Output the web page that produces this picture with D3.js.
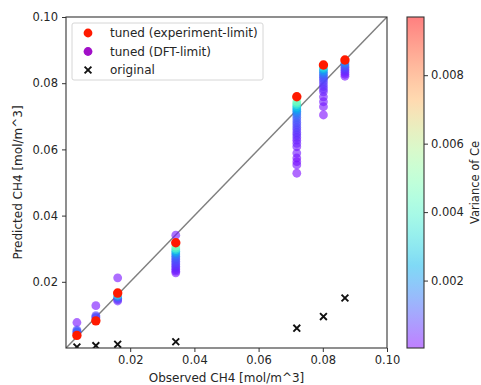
<!DOCTYPE html>
<html>
<head>
<meta charset="utf-8">
<script src="https://cdn.jsdelivr.net/npm/d3@7"></script>
<style>
  body { margin: 0; background: #fff; }
  svg text { font-family: "DejaVu Sans", sans-serif; fill: #262626; }
</style>
</head>
<body>
<div id="chart"></div>
<script>
// observed concentration of each case
const observed = [0.0034, 0.0093, 0.0161, 0.0342, 0.0719, 0.0802, 0.0869];
const originalPred = [0.0003, 0.0007, 0.0011, 0.0019, 0.0060, 0.0095, 0.0151];
const expLimitPred = [0.0038, 0.0082, 0.0166, 0.0318, 0.0759, 0.0855, 0.0870];

// DFT-limit runs, one list per observed case
const dftPred = [
  [0.0077, 0.0055, 0.0051, 0.0048, 0.0046],
  [0.0128, 0.0098, 0.0094, 0.0091],
  [0.0212, 0.0160, 0.0155, 0.0150, 0.0146, 0.0142],
  [0.0341, 0.0308, 0.0302, 0.0297, 0.0292, 0.0287, 0.0282, 0.0277, 0.0272, 0.0267,
   0.0262, 0.0257, 0.0252, 0.0247, 0.0242, 0.0237, 0.0232, 0.0227],
  [0.0745, 0.0740, 0.0735, 0.0730, 0.0725, 0.0720, 0.0715, 0.0710, 0.0704, 0.0697,
   0.0689, 0.0681, 0.0674, 0.0666, 0.0659, 0.0651, 0.0644, 0.0636, 0.0628, 0.0618,
   0.0608, 0.0589, 0.0574, 0.0563, 0.0553, 0.0528],
  [0.0848, 0.0843, 0.0838, 0.0833, 0.0828, 0.0823, 0.0818, 0.0813, 0.0806, 0.0798,
   0.0790, 0.0782, 0.0774, 0.0759, 0.0744, 0.0729, 0.0704],
  [0.0863, 0.0858, 0.0853, 0.0848, 0.0843, 0.0838, 0.0833, 0.0827, 0.0821]
];
const dftVar = [
  [0.0002, 0.0009, 0.0011, 0.0013, 0.0007],
  [0.0002, 0.0008, 0.0010, 0.0006],
  [0.0002, 0.0034, 0.0018, 0.0010, 0.0006, 0.0004],
  [0.0003, 0.0050, 0.0042, 0.0034, 0.0026, 0.0020, 0.0016, 0.0013, 0.0011, 0.0010,
   0.0009, 0.0008, 0.0007, 0.0006, 0.0005, 0.0004, 0.0003, 0.0002],
  [0.0048, 0.0042, 0.0036, 0.0030, 0.0025, 0.0021, 0.0018, 0.0016, 0.0014, 0.0012,
   0.0011, 0.0010, 0.0009, 0.0008, 0.0007, 0.0006, 0.0006, 0.0005, 0.0004, 0.0004,
   0.0003, 0.0003, 0.0002, 0.0002, 0.0002, 0.0001],
  [0.0034, 0.0027, 0.0021, 0.0017, 0.0014, 0.0012, 0.0010, 0.0009, 0.0008, 0.0007,
   0.0006, 0.0005, 0.0004, 0.0003, 0.0003, 0.0002, 0.0001],
  [0.0018, 0.0014, 0.0011, 0.0009, 0.0007, 0.0006, 0.0004, 0.0003, 0.0002]
];

const axisTicks = [0.02, 0.04, 0.06, 0.08, 0.10];
const cbarTicks = [0.002, 0.004, 0.006, 0.008];
const varRange = [0.00003, 0.0097];
const legendLabels = ["tuned (experiment-limit)", "tuned (DFT-limit)", "original"];

const W = 481, H = 385;
const plot = { left: 66, right: 387, top: 17, bottom: 348 };
const cbar = { left: 407, right: 424 };

// matplotlib "rainbow" colormap
function rainbow(t) {
  const cl = v => Math.max(0, Math.min(1, v));
  const r = cl(Math.abs(2 * t - 0.5));
  const g = cl(Math.sin(Math.PI * t));
  const b = cl(Math.cos(Math.PI * t / 2));
  return d3.rgb(r * 255, g * 255, b * 255).formatHex();
}

const svg = d3.select("#chart").append("svg")
  .attr("width", W).attr("height", H);

const x = d3.scaleLinear().domain([0, 0.1]).range([plot.left, plot.right]);
const y = d3.scaleLinear().domain([0, 0.1]).range([plot.bottom, plot.top]);
const cNorm = d3.scaleLinear().domain(varRange).range([0, 1]).clamp(true);
const cY = d3.scaleLinear().domain(varRange).range([plot.bottom, plot.top]);

svg.append("defs").append("clipPath").attr("id", "clip")
  .append("rect")
  .attr("x", plot.left).attr("y", plot.top)
  .attr("width", plot.right - plot.left).attr("height", plot.bottom - plot.top);

const g = svg.append("g").attr("clip-path", "url(#clip)");

// parity line
g.append("line")
  .attr("x1", x(0)).attr("y1", y(0)).attr("x2", x(0.1)).attr("y2", y(0.1))
  .attr("stroke", "#7f7f7f").attr("stroke-width", 1.5);

// DFT-limit points
const dftPoints = [];
dftPred.forEach((col, i) => col.forEach((p, j) => {
  dftPoints.push({ obs: observed[i], pred: p, v: dftVar[i][j] });
}));
dftPoints.sort((a, b) => a.v - b.v);

g.selectAll(".dft").data(dftPoints).enter().append("circle")
  .attr("class", "dft")
  .attr("cx", d => x(d.obs)).attr("cy", d => y(d.pred))
  .attr("r", 4.4)
  .attr("fill", d => rainbow(cNorm(d.v)))
  .attr("fill-opacity", 0.6);

// experiment-limit points
g.selectAll(".exp").data(observed).enter().append("circle")
  .attr("class", "exp")
  .attr("cx", d => x(d)).attr("cy", (d, i) => y(expLimitPred[i]))
  .attr("r", 4.7)
  .attr("fill", "#ff1a00");

// original points
const cross = d3.symbol().type(d3.symbolX).size(32);
g.selectAll(".orig").data(observed).enter().append("path")
  .attr("class", "orig")
  .attr("d", cross)
  .attr("transform", (d, i) => `translate(${x(d)},${y(originalPred[i])})`)
  .attr("fill", "none").attr("stroke", "#111").attr("stroke-width", 1.9);

// axes
const xAxis = svg.append("g")
  .attr("transform", `translate(0,${plot.bottom})`)
  .call(d3.axisBottom(x).tickValues(axisTicks).tickFormat(d3.format(".2f")).tickSize(4).tickPadding(4));
const yAxis = svg.append("g")
  .attr("transform", `translate(${plot.left},0)`)
  .call(d3.axisLeft(y).tickValues(axisTicks).tickFormat(d3.format(".2f")).tickSize(4).tickPadding(4));
[xAxis, yAxis].forEach(a => {
  a.select(".domain").remove();
  a.selectAll("line").attr("stroke", "#333");
  a.selectAll("text").attr("font-size", 11.5).attr("fill", "#262626").attr("font-family", "DejaVu Sans");
});

svg.append("rect")
  .attr("x", plot.left).attr("y", plot.top)
  .attr("width", plot.right - plot.left).attr("height", plot.bottom - plot.top)
  .attr("fill", "none").attr("stroke", "#333").attr("stroke-width", 1.1);

svg.append("text")
  .attr("x", (plot.left + plot.right) / 2).attr("y", 382)
  .attr("text-anchor", "middle").attr("font-size", 12)
  .text("Observed CH4 [mol/m^3]");
svg.append("text")
  .attr("transform", `translate(22,${(plot.top + plot.bottom) / 2}) rotate(-90)`)
  .attr("text-anchor", "middle").attr("font-size", 12)
  .text("Predicted CH4 [mol/m^3]");

// legend
const leg = svg.append("g");
leg.append("rect")
  .attr("x", 72).attr("y", 23).attr("width", 191).attr("height", 57).attr("rx", 2)
  .attr("fill", "#fff").attr("fill-opacity", 0.8)
  .attr("stroke", "#d6d6d6").attr("stroke-width", 1);
const legY = [33, 51.5, 70];
leg.append("circle").attr("cx", 88).attr("cy", legY[0]).attr("r", 4.4).attr("fill", "#ff1a00");
leg.append("circle").attr("cx", 88).attr("cy", legY[1]).attr("r", 4.4).attr("fill", "#a10fc8");
leg.append("path").attr("d", cross).attr("transform", `translate(88,${legY[2]})`)
  .attr("fill", "none").attr("stroke", "#111").attr("stroke-width", 1.9);
legendLabels.forEach((t, i) => {
  leg.append("text").attr("x", 110).attr("y", legY[i] + 4).attr("font-size", 12).text(t);
});

// colorbar
const grad = svg.select("defs").append("linearGradient")
  .attr("id", "cbgrad").attr("x1", 0).attr("y1", 1).attr("x2", 0).attr("y2", 0);
d3.range(0, 1.0001, 0.05).forEach(t => {
  grad.append("stop").attr("offset", t).attr("stop-color", rainbow(t)).attr("stop-opacity", 0.5);
});
svg.append("rect")
  .attr("x", cbar.left).attr("y", plot.top)
  .attr("width", cbar.right - cbar.left).attr("height", plot.bottom - plot.top)
  .attr("fill", "url(#cbgrad)").attr("stroke", "#333").attr("stroke-width", 1.1);
const cAxis = svg.append("g")
  .attr("transform", `translate(${cbar.right},0)`)
  .call(d3.axisRight(cY).tickValues(cbarTicks).tickFormat(d3.format(".3f")).tickSize(4).tickPadding(3));
cAxis.select(".domain").remove();
cAxis.selectAll("line").attr("stroke", "#333");
cAxis.selectAll("text").attr("font-size", 11.5).attr("fill", "#262626").attr("font-family", "DejaVu Sans");

svg.append("text")
  .attr("transform", `translate(479,${(plot.top + plot.bottom) / 2}) rotate(-90)`)
  .attr("text-anchor", "middle").attr("font-size", 11.5)
  .text("Variance of Ce");
</script>
</body>
</html>
